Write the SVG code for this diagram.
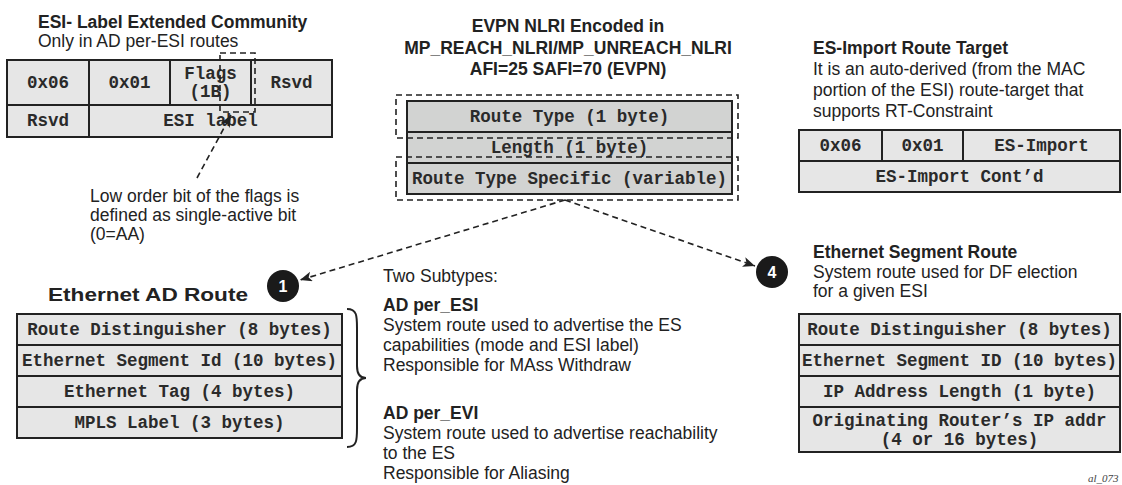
<svg xmlns="http://www.w3.org/2000/svg" width="1122" height="485" viewBox="0 0 1122 485">
<defs>
<style>
.t{font-family:"Liberation Sans",Arial,sans-serif;font-size:17.5px;fill:#222}
.b{font-weight:bold}
.m{font-family:"Liberation Mono","Courier New",monospace;font-size:17.5px;font-weight:bold;fill:#2a2a2a;text-anchor:middle}
.cell{fill:#e6e6e6;stroke:#222;stroke-width:2}
.cd{fill:#d2d3d2;stroke:#222;stroke-width:2}
.ln{stroke:#222;stroke-width:2;fill:none}
.dash{stroke:#222;stroke-width:1.6;fill:none;stroke-dasharray:6 4}
.num{font-family:"Liberation Sans",Arial,sans-serif;font-size:16px;font-weight:bold;fill:#fff;text-anchor:middle}
</style>
<marker id="ah" markerUnits="userSpaceOnUse" markerWidth="14" markerHeight="12" refX="12" refY="5" orient="auto">
<path d="M0,0 L12,5 L0,10 L3,5 Z" fill="#222"/>
</marker>
</defs>
<rect width="1122" height="485" fill="#fff"/>

<g id="esi-label-community">
<text class="t b" x="38" y="28">ESI- Label Extended Community</text>
<text class="t" x="38" y="47">Only in AD per-ESI routes</text>
<rect class="cell" x="7" y="60" width="325" height="77"/>
<line class="ln" x1="7" y1="105" x2="332" y2="105"/>
<line class="ln" x1="89" y1="60" x2="89" y2="137"/>
<line class="ln" x1="170" y1="60" x2="170" y2="105"/>
<line class="ln" x1="251" y1="60" x2="251" y2="105"/>
<text class="m" x="48" y="88">0x06</text>
<text class="m" x="129.5" y="88">0x01</text>
<text class="m" x="210.5" y="79">Flags</text>
<text class="m" x="210.5" y="97">(1B)</text>
<text class="m" x="291.5" y="88">Rsvd</text>
<text class="m" x="48" y="126">Rsvd</text>
<text class="m" x="210.5" y="126">ESI label</text>
<rect class="dash" x="220" y="53" width="35" height="59"/>
</g>

<g id="flags-note">
<text class="t" x="90" y="202">Low order bit of the flags is</text>
<text class="t" x="90" y="221">defined as single-active bit</text>
<text class="t" x="90" y="240">(0=AA)</text>
</g>

<g id="evpn-nlri">
<text class="t b" x="568" y="32" text-anchor="middle">EVPN NLRI Encoded in</text>
<text class="t b" x="568" y="54" text-anchor="middle">MP_REACH_NLRI/MP_UNREACH_NLRI</text>
<text class="t b" x="568" y="75" text-anchor="middle">AFI=25 SAFI=70 (EVPN)</text>
<rect class="cd" x="407" y="101" width="325" height="93"/>
<line class="ln" x1="407" y1="132" x2="732" y2="132"/>
<line class="ln" x1="407" y1="163" x2="732" y2="163"/>
<text class="m" x="569.5" y="122">Route Type (1 byte)</text>
<text class="m" x="569.5" y="153">Length (1 byte)</text>
<text class="m" x="569.5" y="184">Route Type Specific (variable)</text>
<rect class="dash" x="396" y="95" width="342" height="43"/>
<rect class="dash" x="396" y="157" width="342" height="43"/>
</g>

<g id="es-import-rt">
<text class="t b" x="813" y="54">ES-Import Route Target</text>
<text class="t" x="813" y="75">It is an auto-derived (from the MAC</text>
<text class="t" x="813" y="96">portion of the ESI) route-target that</text>
<text class="t" x="813" y="117">supports RT-Constraint</text>
<rect class="cell" x="799" y="130" width="321" height="62"/>
<line class="ln" x1="799" y1="161" x2="1120" y2="161"/>
<line class="ln" x1="882" y1="130" x2="882" y2="161"/>
<line class="ln" x1="963" y1="130" x2="963" y2="161"/>
<text class="m" x="840.5" y="151">0x06</text>
<text class="m" x="922.5" y="151">0x01</text>
<text class="m" x="1041.5" y="151">ES-Import</text>
<text class="m" x="959.5" y="182">ES-Import Cont’d</text>
</g>

<g id="ethernet-ad-route">
<text class="t b" x="48" y="301" font-size="18" textLength="200" lengthAdjust="spacingAndGlyphs">Ethernet AD Route</text>
<circle cx="283" cy="286" r="16" fill="#1a1a1a"/>
<text class="num" x="283" y="292">1</text>
<rect class="cell" x="17" y="314" width="325" height="124"/>
<line class="ln" x1="17" y1="345" x2="342" y2="345"/>
<line class="ln" x1="17" y1="376" x2="342" y2="376"/>
<line class="ln" x1="17" y1="407" x2="342" y2="407"/>
<text class="m" x="179.5" y="335">Route Distinguisher (8 bytes)</text>
<text class="m" x="179.5" y="366">Ethernet Segment Id (10 bytes)</text>
<text class="m" x="179.5" y="397">Ethernet Tag (4 bytes)</text>
<text class="m" x="179.5" y="428">MPLS Label (3 bytes)</text>
<path class="ln" d="M347,309 C357,309 357,316 357,328 L357,366 C357,374 360,378 366,378 C360,378 357,382 357,390 L357,428 C357,440 357,447 347,447"/>
</g>

<g id="subtypes">
<text class="t" x="383" y="282">Two Subtypes:</text>
<text class="t b" x="383" y="311">AD per_ESI</text>
<text class="t" x="383" y="331">System route used to advertise the ES</text>
<text class="t" x="383" y="351">capabilities (mode and ESI label)</text>
<text class="t" x="383" y="371">Responsible for MAss Withdraw</text>
<text class="t b" x="383" y="419">AD per_EVI</text>
<text class="t" x="383" y="439">System route used to advertise reachability</text>
<text class="t" x="383" y="459">to the ES</text>
<text class="t" x="383" y="479">Responsible for Aliasing</text>
</g>

<g id="ethernet-segment-route">
<circle cx="772" cy="272" r="16" fill="#1a1a1a"/>
<text class="num" x="772" y="278">4</text>
<text class="t b" x="813" y="258">Ethernet Segment Route</text>
<text class="t" x="813" y="278">System route used for DF election</text>
<text class="t" x="813" y="297">for a given ESI</text>
<rect class="cell" x="799" y="314" width="321" height="138"/>
<line class="ln" x1="799" y1="345" x2="1120" y2="345"/>
<line class="ln" x1="799" y1="376" x2="1120" y2="376"/>
<line class="ln" x1="799" y1="407" x2="1120" y2="407"/>
<text class="m" x="959.5" y="335">Route Distinguisher (8 bytes)</text>
<text class="m" x="959.5" y="366">Ethernet Segment ID (10 bytes)</text>
<text class="m" x="959.5" y="397">IP Address Length (1 byte)</text>
<text class="m" x="959.5" y="426">Originating Router’s IP addr</text>
<text class="m" x="959.5" y="445">(4 or 16 bytes)</text>
</g>

<g id="connectors">
<line class="dash" x1="197" y1="178" x2="231" y2="115" marker-end="url(#ah)"/>
<line class="dash" x1="565" y1="200" x2="300" y2="280" marker-end="url(#ah)"/>
<line class="dash" x1="565" y1="200" x2="755" y2="266" marker-end="url(#ah)"/>
</g>

<text x="1088" y="482" font-family="Liberation Serif,serif" font-style="italic" font-size="11" fill="#444">al_073</text>
</svg>
